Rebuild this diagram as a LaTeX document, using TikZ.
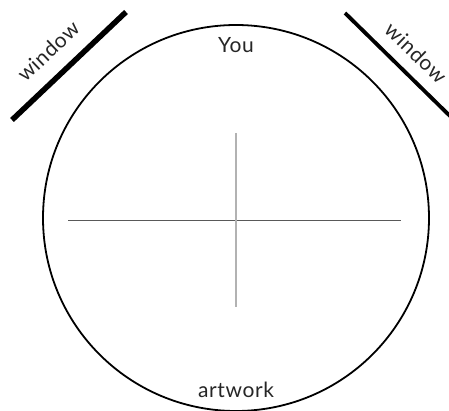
\documentclass[tikz,border=0pt]{standalone}
\usepackage{fontspec}
\setmainfont{Lato}
\newfontfamily\lblfont[LetterSpace=3]{Lato}
\begin{document}
\begin{tikzpicture}[x=1pt,y=-1pt,
  lbl/.style={font=\lblfont\fontsize{21}{24}\selectfont, text=black!85, inner sep=0pt},
  win/.style={line width=#1, draw=black}]
\useasboundingbox (0,0) rectangle (449,411);
\node[circle, draw, line width=1.8pt, minimum size=386pt, inner sep=0pt] (c) at (236,218) {};
\coordinate (hl) at (68,220);
\coordinate (hr) at (401,220);
\coordinate (vt) at (236,133);
\coordinate (vb) at (236,307);
\draw[black!65, line width=0.9pt] (hl) -- (hr);
\draw[black!30, line width=1.2pt] (vt) -- (vb);
\coordinate (w1a) at (12,120);
\coordinate (w1b) at (126,12);
\draw[win=5.5pt] (w1a) -- (w1b);
\coordinate (w2a) at (345,13);
\coordinate (w2b) at (452,118);
\draw[win=3.8pt] (w2a) -- (w2b);
\node[lbl, rotate=43.5] (t1) at (48,51) {window};
\node[lbl, rotate=-44] (t2) at (416,53) {window};
\node[lbl] (you) at (236,45) {You};
\node[lbl] (art) at (236,390) {artwork};
\end{tikzpicture}
\end{document}
